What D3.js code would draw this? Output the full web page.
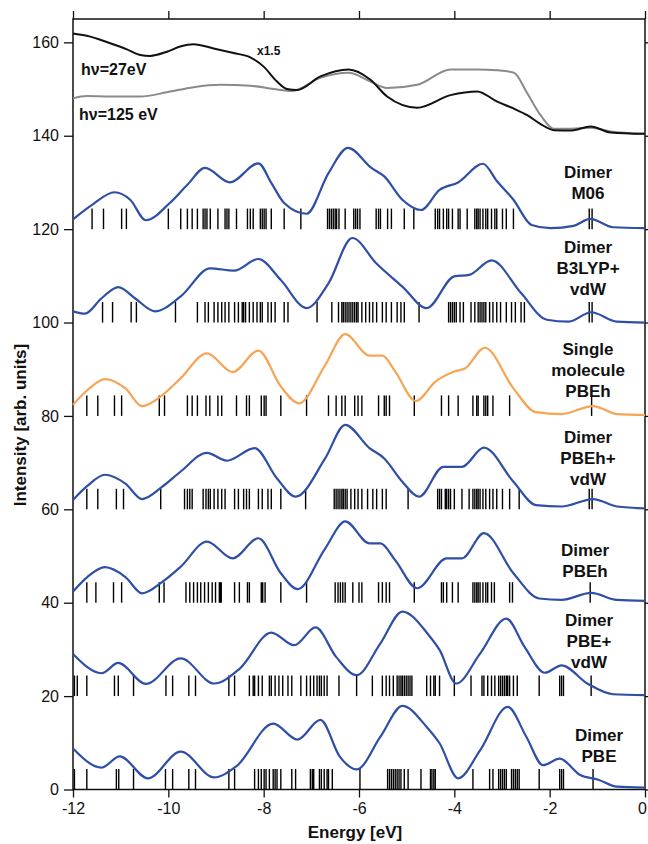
<!DOCTYPE html>
<html>
<head>
<meta charset="utf-8">
<script src="https://cdn.jsdelivr.net/npm/d3@7"></script>
<style>
body { margin: 0; background: #fff; }
svg text { font-family: "Liberation Sans", Arial, sans-serif; fill: #111; }
</style>
</head>
<body>
<svg id="chart" width="648" height="844"></svg>
<script>
// ---- data (energy in eV, intensity in arb. units) ----
const energyTicks = [-12, -10, -8, -6, -4, -2, 0];
const intensityTicks = [0, 20, 40, 60, 80, 100, 120, 140, 160];

// experimental spectra
const exp27 = [[-12,161.9],[-11.71,161.4],[-11.22,159.8],[-10.87,158.5],[-10.59,157.3],[-10.38,157.1],[-10.03,158],[-9.75,159.1],[-9.47,159.6],[-9.05,158.7],[-8.63,157.7],[-8.28,156.8],[-8,154.8],[-7.72,151.6],[-7.51,150],[-7.3,149.8],[-6.81,152.7],[-6.22,154.2],[-5.76,152],[-5.41,148.4],[-4.78,146],[-4.08,148.7],[-3.52,149.5],[-3.1,147.3],[-2.75,145.8],[-2.47,144.4],[-2.19,142.5],[-1.91,141.2],[-1.56,141.1],[-1.14,142],[-0.72,140.7],[0,140.4]];
const exp125 = [[-12,148],[-11.71,148.5],[-11.22,148.4],[-10.59,148.4],[-10.03,149.3],[-9.47,150.4],[-8.91,150.9],[-8.28,150.7],[-7.79,150],[-7.4,149.6],[-6.81,152.4],[-6.22,153.5],[-5.76,151.6],[-5.41,150.2],[-4.78,150.9],[-4.08,154.2],[-3.52,154.2],[-3.1,154],[-2.75,153.5],[-2.47,149.1],[-2.19,144.4],[-1.91,141.5],[-1.56,141.5],[-1.14,141.7],[-0.72,140.9],[0,140.4]];

// broadened theoretical spectra
const m06Curve = [[-12,122.1],[-11.6,125.2],[-11.13,127.9],[-10.8,126.3],[-10.47,121.9],[-9.97,125.6],[-9.6,129.5],[-9.23,133.1],[-8.71,130],[-8.11,134.1],[-7.84,129.9],[-7.57,125.6],[-7.1,123.3],[-6.64,132],[-6.23,137.4],[-5.74,133.1],[-5.47,131.3],[-5.09,126.3],[-4.7,124.1],[-4.31,128.4],[-3.92,130],[-3.4,134],[-3.1,130.2],[-2.76,126.3],[-2.38,120.9],[-1.98,120.2],[-1.5,120.7],[-1.15,122.2],[-0.67,120.4],[0,120.2]];
const b3lypCurve = [[-12,102.4],[-11.75,101.9],[-11.4,105.2],[-11.05,107.6],[-10.7,105.2],[-10.28,102.4],[-9.74,105.6],[-9.12,111.6],[-8.62,111.1],[-8.11,113.6],[-7.64,109.1],[-7.1,103.1],[-6.64,108.4],[-6.14,118.1],[-5.64,112.7],[-5.09,107.7],[-4.58,103.1],[-4,109.9],[-3.69,110.2],[-3.22,113.3],[-2.6,106.3],[-2.06,100.6],[-1.6,100.2],[-1.13,102.2],[-0.59,100.2],[0,100]];
const singleCurve = [[-12,82.4],[-11.7,85.5],[-11.33,87.9],[-10.9,85.9],[-10.55,82.1],[-10.12,84.5],[-9.74,88.1],[-9.19,93.4],[-8.65,89.4],[-8.11,94],[-7.64,86.3],[-7.26,82.7],[-6.71,90.9],[-6.29,97.5],[-5.78,92.9],[-5.51,92.9],[-5.24,89.5],[-4.81,83.2],[-4.39,87.4],[-4,89.5],[-3.77,90.2],[-3.36,94.6],[-2.76,85.9],[-2.29,80.8],[-1.75,80.4],[-1.09,82.1],[-0.59,80.4],[0,80.2]];
const pbehVdwCurve = [[-12,62],[-11.7,65],[-11.33,67.4],[-10.9,65.5],[-10.55,62.2],[-10.12,64.9],[-9.74,68.1],[-9.19,72.1],[-8.77,70.4],[-8.19,73.1],[-7.72,66.6],[-7.33,62.7],[-6.71,70.9],[-6.29,78.1],[-5.78,73.1],[-5.47,70.9],[-5.09,65.9],[-4.74,62.7],[-4.23,69.1],[-3.84,69.1],[-3.38,73.2],[-2.76,65.9],[-2.29,60.9],[-1.75,60.6],[-1.09,62.2],[-0.59,60.6],[0,60.2]];
const pbehCurve = [[-12,42.4],[-11.7,45.5],[-11.33,47.6],[-10.9,45.5],[-10.55,42],[-10.12,44.5],[-9.74,47.7],[-9.19,53.1],[-8.65,49.5],[-8.11,53.8],[-7.64,46.3],[-7.29,42.9],[-6.71,51.6],[-6.29,57.4],[-5.78,52.7],[-5.55,52.7],[-5.24,49.1],[-4.78,43.1],[-4.16,49.5],[-3.84,49.5],[-3.38,54.9],[-2.76,46.3],[-2.22,40.9],[-1.75,40.6],[-1.13,42.1],[-0.59,40.6],[0,40.4]];
const pbeVdwCurve = [[-12,29],[-11.4,24.9],[-11.05,27.1],[-10.47,22.6],[-9.74,28.1],[-9.04,22.7],[-8.5,25.9],[-7.84,33.6],[-7.36,30.9],[-6.91,34.7],[-6.48,28.4],[-6.05,24.5],[-5.55,31.3],[-5.09,38.1],[-4.54,33.1],[-4.31,29.9],[-3.96,22.7],[-3.46,29.1],[-2.91,36.6],[-2.53,30.6],[-2.1,25],[-1.75,26.6],[-1.21,22.7],[-0.67,20.4],[0,20.2]];
const pbeCurve = [[-12,8.8],[-11.4,4.7],[-11.02,7.1],[-10.43,2.4],[-9.74,8.1],[-9.04,2.6],[-8.57,5],[-7.8,14.1],[-7.29,10.7],[-6.81,14.9],[-6.4,7],[-6.05,4.3],[-5.55,11.3],[-5.09,17.9],[-4.58,13.4],[-4.31,9.9],[-3.92,2.4],[-3.46,8.4],[-2.88,17.7],[-2.49,11.3],[-2.14,5.2],[-1.79,6.6],[-1.36,3.1],[-0.98,2.1],[-0.59,0.6],[0,0.4]];

// eigenvalue sticks (eV)
const m06Sticks = [-11.60,-11.36,-10.98,-10.88,-10.00,-9.74,-9.60,-9.50,-9.39,-9.27,-9.23,-9.19,-9.12,-8.96,-8.81,-8.77,-8.73,-8.57,-8.34,-8.28,-8.22,-8.07,-8.03,-7.99,-7.95,-7.84,-7.57,-7.22,-6.66,-6.62,-6.58,-6.54,-6.50,-6.47,-6.42,-6.29,-6.11,-6.07,-6.03,-5.98,-5.64,-5.59,-5.55,-5.40,-5.32,-5.05,-4.85,-4.40,-4.35,-4.31,-4.23,-4.16,-4.12,-4.04,-3.92,-3.88,-3.73,-3.57,-3.53,-3.50,-3.46,-3.40,-3.34,-3.30,-3.22,-3.15,-3.11,-2.99,-2.91,-2.76,-1.17,-1.11];
const b3lypSticks = [-11.38,-11.17,-10.78,-10.67,-9.85,-9.39,-9.23,-9.16,-9.04,-8.96,-8.88,-8.81,-8.73,-8.61,-8.53,-8.45,-8.42,-8.38,-8.30,-8.22,-8.14,-8.07,-8.03,-7.91,-7.84,-7.76,-7.57,-7.49,-6.88,-6.57,-6.43,-6.36,-6.33,-6.29,-6.25,-6.21,-6.17,-6.13,-6.09,-6.05,-6.02,-5.94,-5.86,-5.78,-5.71,-5.63,-5.51,-5.43,-5.32,-5.20,-5.12,-5.05,-4.74,-4.12,-4.08,-4.04,-4.00,-3.96,-3.88,-3.81,-3.65,-3.57,-3.50,-3.46,-3.42,-3.38,-3.34,-3.26,-3.19,-3.11,-3.03,-2.91,-2.80,-2.72,-2.60,-2.53,-1.17,-1.11];
const singleSticks = [-11.71,-11.48,-11.13,-10.98,-10.19,-10.08,-9.60,-9.50,-9.39,-9.21,-9.13,-8.96,-8.88,-8.57,-8.36,-8.30,-8.05,-7.99,-7.95,-7.64,-7.10,-6.64,-6.48,-6.36,-6.29,-6.09,-6.02,-5.94,-5.59,-5.47,-5.43,-5.36,-4.84,-4.27,-4.12,-3.92,-3.61,-3.53,-3.50,-3.38,-3.34,-3.30,-3.19,-2.84,-1.12];
const pbehVdwSticks = [-11.71,-11.48,-11.09,-10.94,-10.16,-9.66,-9.60,-9.55,-9.50,-9.27,-9.21,-9.16,-9.12,-9.04,-8.96,-8.88,-8.81,-8.61,-8.53,-8.42,-8.36,-8.30,-8.11,-8.03,-7.91,-7.84,-7.64,-7.12,-6.52,-6.48,-6.44,-6.40,-6.36,-6.33,-6.29,-6.25,-6.17,-6.09,-6.02,-5.94,-5.82,-5.71,-5.63,-5.51,-5.43,-4.97,-4.35,-4.31,-4.27,-4.19,-4.16,-4.12,-4.08,-4.00,-3.84,-3.69,-3.61,-3.57,-3.53,-3.50,-3.46,-3.40,-3.34,-3.26,-3.19,-3.11,-2.99,-2.84,-2.64,-1.17,-1.11];
const pbehSticks = [-11.71,-11.52,-11.15,-10.98,-10.19,-10.09,-9.63,-9.55,-9.47,-9.39,-9.32,-9.24,-9.16,-9.08,-9.01,-8.93,-8.91,-8.89,-8.61,-8.51,-8.34,-8.30,-8.05,-8.02,-7.97,-7.64,-7.10,-6.50,-6.44,-6.39,-6.34,-6.29,-6.13,-6.00,-5.94,-5.59,-5.51,-5.43,-5.36,-4.84,-4.27,-4.23,-4.16,-4.04,-3.92,-3.61,-3.57,-3.53,-3.50,-3.46,-3.40,-3.34,-3.30,-3.22,-3.16,-2.84,-2.78,-1.15];
const pbeVdwSticks = [-11.97,-11.91,-11.71,-11.13,-11.05,-10.73,-10.05,-9.91,-9.57,-9.43,-8.73,-8.61,-8.30,-8.22,-8.19,-8.11,-8.03,-7.88,-7.84,-7.76,-7.68,-7.60,-7.49,-7.41,-7.22,-7.10,-7.02,-6.95,-6.88,-6.83,-6.79,-6.73,-6.67,-6.42,-6.05,-5.72,-5.51,-5.43,-5.36,-5.28,-5.20,-5.16,-5.12,-5.09,-5.05,-5.01,-4.97,-4.93,-4.89,-4.58,-4.50,-4.43,-4.40,-4.31,-4.00,-3.65,-3.42,-3.38,-3.30,-3.22,-3.15,-3.07,-3.03,-2.99,-2.95,-2.91,-2.88,-2.84,-2.76,-2.68,-2.22,-1.79,-1.75,-1.71,-1.13];
const pbeSticks = [-11.97,-11.71,-11.09,-11.04,-10.73,-10.06,-9.91,-9.57,-9.43,-8.73,-8.61,-8.19,-8.11,-8.05,-7.99,-7.95,-7.88,-7.80,-7.76,-7.72,-7.64,-7.41,-7.33,-7.02,-6.98,-6.95,-6.83,-6.79,-6.73,-6.67,-6.64,-6.56,-5.98,-5.40,-5.36,-5.32,-5.28,-5.24,-5.20,-5.16,-5.12,-5.05,-4.97,-4.70,-4.50,-4.47,-4.43,-4.40,-3.61,-3.26,-3.19,-3.07,-3.03,-2.99,-2.95,-2.91,-2.80,-2.76,-2.72,-2.68,-2.64,-2.22,-1.79,-1.75,-1.71,-1.09];

const seriesNames = [["Dimer","M06"],["Dimer","B3LYP+","vdW"],["Single","molecule","PBEh"],["Dimer","PBEh+","vdW"],["Dimer","PBEh"],["Dimer","PBE+","vdW"],["Dimer","PBE"]];
const baselines = [120, 100, 80, 60, 40, 20, 0];
const stickHeight = 4.4;

const curves = [m06Curve, b3lypCurve, singleCurve, pbehVdwCurve, pbehCurve, pbeVdwCurve, pbeCurve];
const sticks = [m06Sticks, b3lypSticks, singleSticks, pbehVdwSticks, pbehSticks, pbeVdwSticks, pbeSticks];

// ---- drawing ----
const svg = d3.select("#chart");
const x = d3.scaleLinear().domain([-12, 0]).range([73, 645]);
const y = d3.scaleLinear().domain([0, 165]).range([789.5, 19]);

const blue = "#2f4fa6", orange = "#f7a555";
const colors = [blue, blue, orange, blue, blue, blue, blue];

// axes (plain hyphen for negatives, like the original)
svg.append("g").attr("transform", "translate(73,0)")
  .call(d3.axisLeft(y).tickValues(intensityTicks).tickSize(9).tickPadding(5))
  .call(g => g.select(".domain").remove())
  .selectAll("text").style("font-size", "16px");
svg.append("g").attr("transform", "translate(645,0)")
  .call(d3.axisRight(y).tickValues(intensityTicks).tickSize(8).tickFormat(""))
  .call(g => g.select(".domain").remove());
svg.append("g").attr("transform", "translate(0,789.5)")
  .call(d3.axisBottom(x).tickValues(energyTicks).tickSize(8).tickPadding(5).tickFormat(d => String(d)))
  .call(g => g.select(".domain").remove())
  .selectAll("text").style("font-size", "16px")
  .attr("dx", d => d === 0 ? -3 : 0);
svg.append("g").attr("transform", "translate(0,19)")
  .call(d3.axisTop(x).tickValues(energyTicks).tickSize(8).tickFormat(""))
  .call(g => g.select(".domain").remove());
svg.selectAll(".tick line").attr("stroke", "#111").attr("stroke-width", 1.3);

svg.append("rect")
  .attr("x", x(-12)).attr("y", y(165))
  .attr("width", x(0) - x(-12)).attr("height", y(0) - y(165))
  .attr("fill", "none").attr("stroke", "#111").attr("stroke-width", 1.5);

const line = d3.line().x(d => x(d[0])).y(d => y(d[1])).curve(d3.curveMonotoneX);

// sticks
sticks.forEach((s, i) => {
  svg.append("g").selectAll("line").data(s).join("line")
    .attr("x1", d => x(d)).attr("x2", d => x(d))
    .attr("y1", y(baselines[i])).attr("y2", y(baselines[i] + stickHeight))
    .attr("stroke", "#000").attr("stroke-width", 1.4);
});

// curves
curves.forEach((c, i) => {
  svg.append("path").datum(c).attr("d", line)
    .attr("fill", "none").attr("stroke", colors[i]).attr("stroke-width", 2.2);
});

svg.append("path").datum(exp125).attr("d", line)
  .attr("fill", "none").attr("stroke", "#8a8a8a").attr("stroke-width", 2);
svg.append("path").datum(exp27).attr("d", line)
  .attr("fill", "none").attr("stroke", "#111").attr("stroke-width", 2);

// series labels
const labelBottom = [199, 295, 397, 485, 577, 668, 762];
const labelX = [588, 588, 588, 588, 585, 589, 599];
seriesNames.forEach((lines, i) => {
  const t = svg.append("text").attr("text-anchor", "middle")
    .style("font-size", "17px").style("font-weight", "bold");
  lines.forEach((l, j) => {
    t.append("tspan").attr("x", labelX[i])
      .attr("y", labelBottom[i] - (lines.length - 1 - j) * 21).text(l);
  });
});

// experiment labels
svg.append("text").attr("x", 81).attr("y", 75)
  .style("font-size", "16px").style("font-weight", "bold").text("h\u03bd=27eV");
svg.append("text").attr("x", 79).attr("y", 120)
  .style("font-size", "16px").style("font-weight", "bold").text("h\u03bd=125 eV");
svg.append("text").attr("x", 257).attr("y", 55)
  .style("font-size", "12px").style("font-weight", "bold").text("x1.5");

// axis titles
svg.append("text").attr("x", 355).attr("y", 838).attr("text-anchor", "middle")
  .style("font-size", "17px").style("font-weight", "bold").text("Energy [eV]");
svg.append("text").attr("transform", "translate(26,425) rotate(-90)").attr("text-anchor", "middle")
  .style("font-size", "17px").style("font-weight", "bold").text("Intensity [arb. units]");
</script>
</body>
</html>
